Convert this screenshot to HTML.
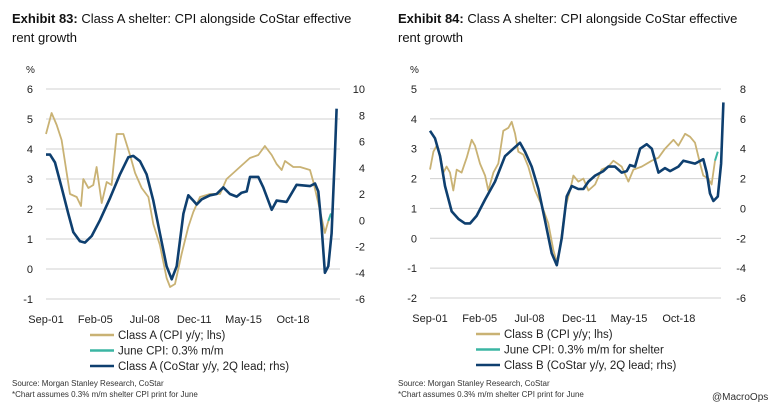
<!DOCTYPE html>
<html><head><meta charset="utf-8"><style>
body{margin:0;background:#fff;width:776px;height:410px;overflow:hidden;font-family:"Liberation Sans",sans-serif}
svg text{font-family:"Liberation Sans",sans-serif}
</style></head><body>
<svg id="s" width="776" height="410" viewBox="0 0 776 410">
<text x="12" y="23" font-size="13" fill="#111"><tspan font-weight="bold">Exhibit 83:</tspan> Class A shelter: CPI alongside CoStar effective</text>
<text x="12" y="42" font-size="13" fill="#111">rent growth</text>
<text x="398" y="23" font-size="13" fill="#111"><tspan font-weight="bold">Exhibit 84:</tspan> Class A shelter: CPI alongside CoStar effective</text>
<text x="398" y="42" font-size="13" fill="#111">rent growth</text>
<g id="c1"></g>
<g id="c2"></g>
<text x="12" y="386" font-size="8" fill="#333">Source: Morgan Stanley Research, CoStar</text>
<text x="12" y="397" font-size="8" fill="#333">*Chart assumes 0.3% m/m shelter CPI print for June</text>
<text x="398" y="386" font-size="8" fill="#333">Source: Morgan Stanley Research, CoStar</text>
<text x="398" y="397" font-size="8" fill="#333">*Chart assumes 0.3% m/m shelter CPI print for June</text>
<text x="712" y="400" font-size="10" fill="#333">@MacroOps</text>
</svg>
<script>
const xTickLabels=["Sep-01","Feb-05","Jul-08","Dec-11","May-15","Oct-18"];
const xTickYears=[2001.67,2005.08,2008.5,2011.92,2015.33,2018.75];
const L_lhsTicks=[-1,0,1,2,3,4,5,6];
const L_rhsTicks=[-6,-4,-2,0,2,4,6,8,10];
const L_tanX=[2001.67,2002.06,2002.41,2002.75,2003.10,2003.33,2003.79,2004.09,2004.25,2004.60,2004.94,2005.17,2005.52,2005.87,2006.21,2006.56,2007.02,2007.48,2007.83,2008.29,2008.75,2009.09,2009.55,2010.01,2010.25,2010.59,2011.05,2011.51,2011.86,2012.32,2013.01,2013.70,2014.16,2014.62,2015.08,2015.77,2016.35,2016.81,2017.28,2017.62,2017.97,2018.20,2018.77,2019.24,2019.93,2020.16,2020.50,2020.96,2021.19];
const L_tanY=[4.5,5.2,4.8,4.3,3.2,2.5,2.4,2.1,3.0,2.7,2.8,3.4,2.2,2.9,2.8,4.5,4.5,3.8,3.2,2.7,2.4,1.5,0.8,-0.3,-0.6,-0.5,0.5,1.4,1.9,2.4,2.5,2.5,3.0,3.2,3.4,3.7,3.8,4.1,3.8,3.5,3.3,3.6,3.4,3.4,3.3,2.9,2.2,1.2,1.6];
const L_greenX=[2021.19,2021.38];
const L_greenY=[1.6,1.85];
const L_blueX=[2001.67,2001.95,2002.29,2002.75,2003.21,2003.56,2004.02,2004.37,2004.83,2005.40,2006.10,2006.79,2007.36,2007.71,2008.17,2008.63,2009.09,2009.55,2010.01,2010.36,2010.71,2011.17,2011.51,2011.86,2012.09,2012.44,2013.01,2013.47,2013.93,2014.39,2014.86,2015.20,2015.55,2015.78,2016.35,2016.70,2017.28,2017.62,2018.31,2019.00,2019.93,2020.27,2020.50,2020.73,2020.96,2021.19,2021.42,2021.65,2021.77];
const L_blueY=[5.0,5.0,4.4,2.5,0.5,-0.9,-1.6,-1.7,-1.2,0,1.7,3.5,4.8,4.9,4.5,3.5,1.5,-1.0,-3.5,-4.5,-3.5,0.5,1.9,1.5,1.2,1.6,1.9,2.0,2.5,2.0,1.8,2.1,2.2,3.3,3.3,2.5,0.8,1.5,1.4,2.7,2.6,2.8,2.2,-0.5,-4.0,-3.5,-1.0,5.0,8.5];
const R_lhsTicks=[-2,-1,0,1,2,3,4,5];
const R_rhsTicks=[-6,-4,-2,0,2,4,6,8];
const R_tanX=[2001.67,2001.90,2002.13,2002.36,2002.59,2002.81,2003.04,2003.27,2003.50,2003.84,2004.19,2004.53,2004.76,2005.10,2005.45,2005.67,2006.02,2006.36,2006.70,2007.05,2007.28,2007.51,2007.73,2008.08,2008.42,2008.88,2009.34,2009.79,2010.14,2010.37,2010.59,2010.94,2011.28,2011.51,2011.85,2012.20,2012.54,2013.00,2013.45,2013.91,2014.26,2014.83,2015.29,2015.63,2016.20,2016.89,2017.35,2017.80,2018.38,2018.72,2019.18,2019.52,2019.86,2020.21,2020.43,2020.78,2021.00,2021.23];
const R_tanY=[2.3,2.9,3.1,2.8,2.2,2.4,2.2,1.6,2.3,2.2,2.7,3.3,3.1,2.5,2.1,1.6,2.2,2.5,3.6,3.7,3.9,3.5,2.9,2.8,2.4,1.6,1.1,0.5,-0.4,-0.8,-0.3,1.0,1.6,2.1,1.9,2.0,1.6,1.8,2.3,2.4,2.6,2.4,1.9,2.3,2.4,2.6,2.7,3.0,3.3,3.1,3.5,3.4,3.2,2.5,2.1,2.0,1.8,2.6];
const R_greenX=[2021.23,2021.42];
const R_greenY=[2.6,2.9];
const R_blueX=[2001.67,2002.01,2002.36,2002.70,2003.16,2003.62,2004.07,2004.42,2004.87,2005.45,2006.13,2006.82,2007.39,2007.85,2008.19,2008.65,2009.11,2009.56,2010.02,2010.37,2010.71,2011.05,2011.40,2011.85,2012.20,2012.54,2013.00,2013.57,2013.91,2014.37,2014.83,2015.17,2015.40,2015.74,2016.09,2016.54,2016.89,2017.35,2017.80,2018.15,2018.72,2019.06,2019.86,2020.43,2020.66,2020.89,2021.12,2021.42,2021.65,2021.81];
const R_blueY=[5.2,4.7,3.5,1.5,-0.2,-0.7,-1.0,-1.0,-0.5,0.6,1.8,3.5,4.0,4.4,3.8,2.8,1.3,-0.8,-3.0,-3.8,-2.0,0.8,1.5,1.3,1.3,1.8,2.2,2.5,2.8,2.8,2.4,2.5,2.9,2.8,4.0,4.3,4.0,2.4,2.7,2.5,2.8,3.2,3.0,3.3,2.4,1.0,0.5,0.8,3.0,7.1];

const NS="http://www.w3.org/2000/svg";
function mk(g,tag,attrs){const e=document.createElementNS(NS,tag);for(const k in attrs)e.setAttribute(k,attrs[k]);g.appendChild(e);return e;}
function draw(g,cfg){
  const xs=y=>cfg.x0+(y-2001.67)*cfg.pxYr;
  const yl=v=>cfg.yTop+(cfg.lMax-v)*(cfg.yBot-cfg.yTop)/(cfg.lMax-cfg.lMin);
  const yr=v=>cfg.yTop+(cfg.rMax-v)*(cfg.yBot-cfg.yTop)/(cfg.rMax-cfg.rMin);
  const pct=mk(g,'text',{x:cfg.x0-20,y:cfg.yTop-16,'font-size':10,fill:'#222'});pct.textContent='%';
  
  
  cfg.lt.forEach(v=>{
    const l=mk(g,'line',{x1:cfg.x0,x2:cfg.x1,y1:yl(v),y2:yl(v),stroke:'#d0d0d0','stroke-width':1});
    
    
    const t=mk(g,'text',{x:cfg.x0-13,y:yl(v)+4,'font-size':11,fill:'#222','text-anchor':'end'});t.textContent=v;
    
    
  });
  cfg.rt.forEach(v=>{
    const t=mk(g,'text',{x:cfg.x1+25,y:yr(v)+4,'font-size':11,fill:'#222','text-anchor':'end'});t.textContent=v;
    
    
  });
  xTickLabels.forEach((s,i)=>{
    const t=mk(g,'text',{x:xs(xTickYears[i]),y:cfg.yBot+24,'font-size':11,fill:'#222','text-anchor':'middle'});t.textContent=s;
    
    
  });
  const path=(X,Y,f,col,w,name)=>{
    const p=mk(g,'polyline',{points:X.map((x,i)=>xs(x).toFixed(1)+','+f(Y[i]).toFixed(1)).join(' '),fill:'none',stroke:col,'stroke-width':w,'stroke-linejoin':'round'});
    
    
  };
  path(cfg.tx,cfg.ty,yl,'#c9b274',1.8,'series-cpi');
  path(cfg.gx,cfg.gy,yl,'#3bb5a3',2,'series-june-cpi');
  path(cfg.bx,cfg.by,yr,'#0e3f6f',2.6,'series-costar');
  const lx=cfg.legX;
  cfg.leg.forEach((s,i)=>{
    const y=cfg.yBot+36+i*15.5;
    const l=mk(g,'line',{x1:lx,x2:lx+24,y1:y,y2:y,stroke:['#c9b274','#3bb5a3','#0e3f6f'][i],'stroke-width':2.5});
    
    
    const t=mk(g,'text',{x:lx+28,y:y+4,'font-size':11.5,fill:'#222'});t.textContent=s;
    
    
  });
}
draw(document.getElementById('c1'),{x0:46,x1:340,pxYr:14.46,yTop:89,yBot:299,lMin:-1,lMax:6,rMin:-6,rMax:10,lt:L_lhsTicks,rt:L_rhsTicks,
 tx:L_tanX,ty:L_tanY,gx:L_greenX,gy:L_greenY,bx:L_blueX,by:L_blueY,legX:90,
 leg:["Class A (CPI y/y; lhs)","June CPI: 0.3% m/m","Class A (CoStar y/y, 2Q lead; rhs)"]});
draw(document.getElementById('c2'),{x0:430,x1:721,pxYr:14.57,yTop:89,yBot:298,lMin:-2,lMax:5,rMin:-6,rMax:8,lt:R_lhsTicks,rt:R_rhsTicks,
 tx:R_tanX,ty:R_tanY,gx:R_greenX,gy:R_greenY,bx:R_blueX,by:R_blueY,legX:476,
 leg:["Class B (CPI y/y; lhs)","June CPI: 0.3% m/m for shelter","Class B (CoStar y/y, 2Q lead; rhs)"]});
</script>
</body></html>
